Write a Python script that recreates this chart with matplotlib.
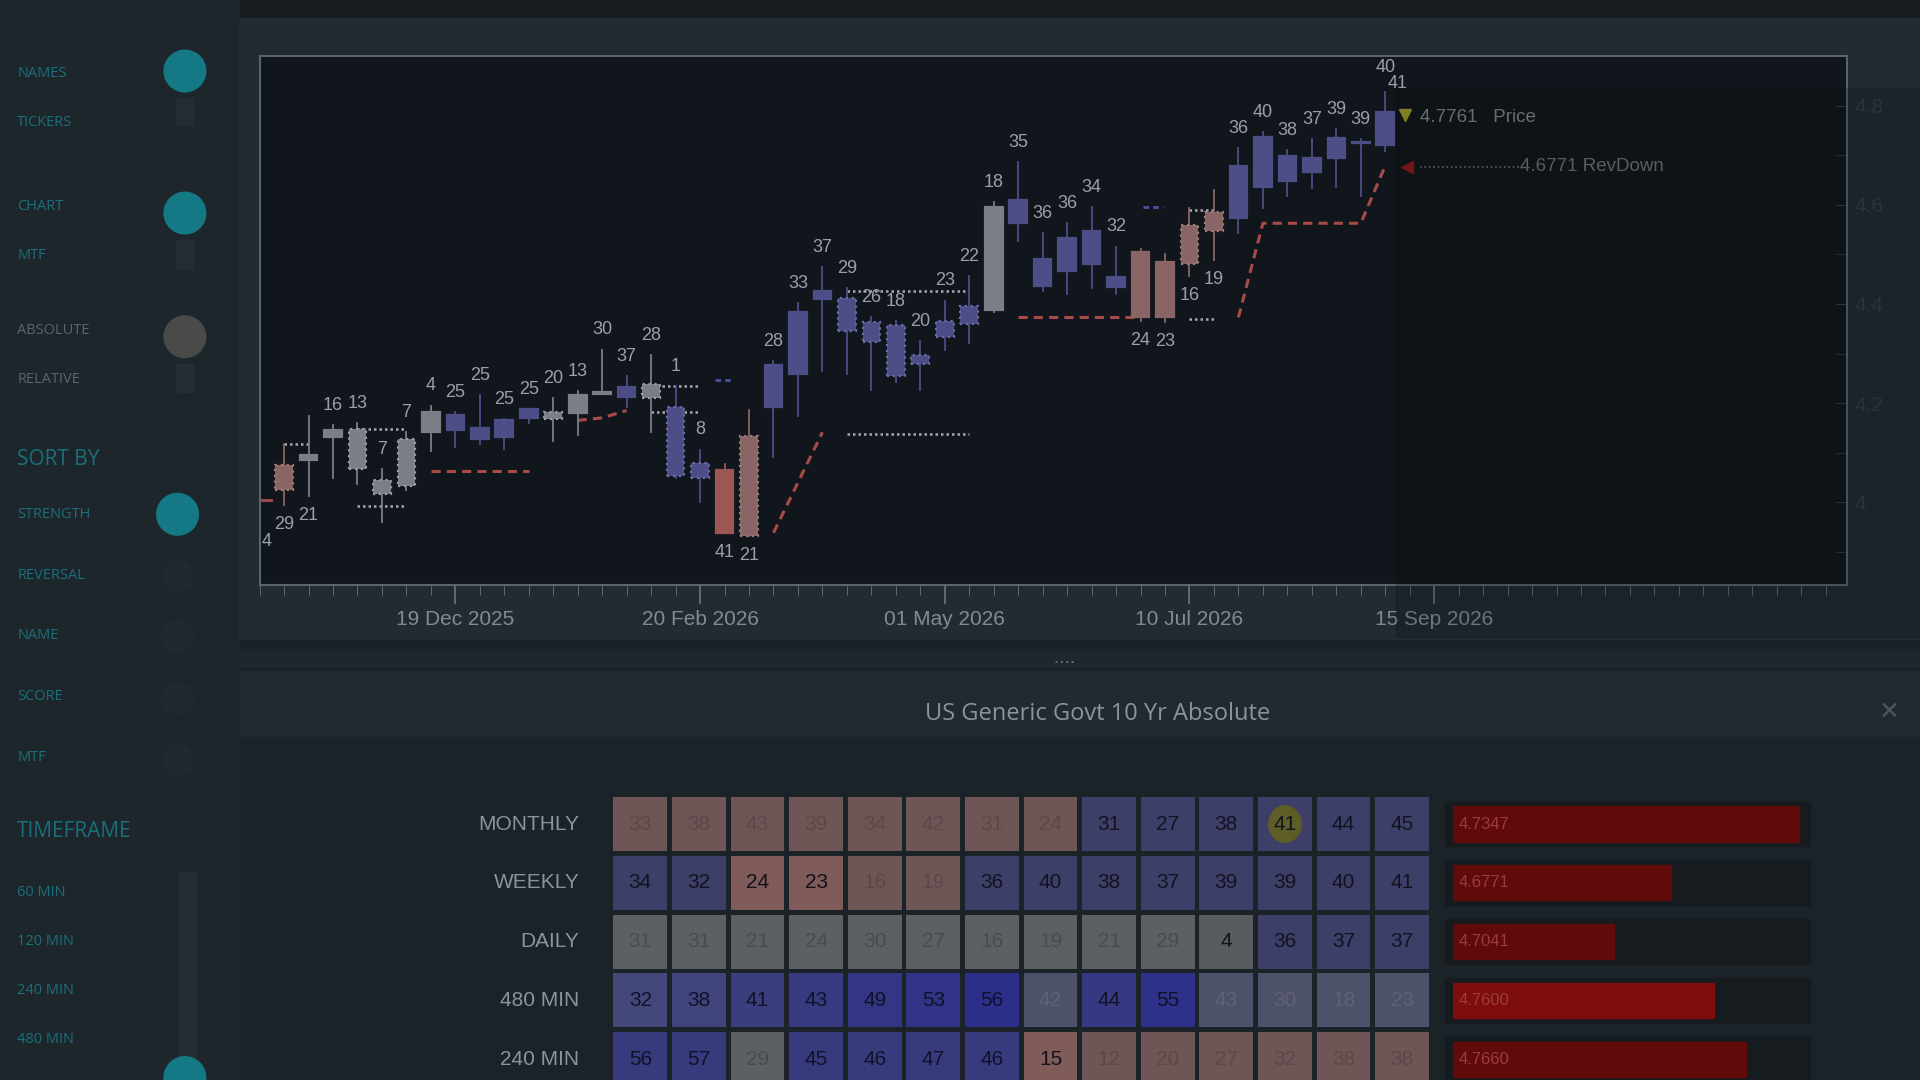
import matplotlib
matplotlib.use("Agg")
import matplotlib.pyplot as plt
from matplotlib.patches import Rectangle, Ellipse
import numpy as np

plt.rcParams['font.family'] = ['Liberation Sans Narrow', 'Liberation Sans', 'DejaVu Sans']

# ---------------- data ----------------
opens = [4.074, 4.096, 4.145, 4.148, 4.044, 4.128, 4.182, 4.175, 4.150, 4.165, 4.187, 4.182, 4.217, 4.222,
         4.232, 4.239, 4.192, 4.079, 4.064, 4.133, 4.276, 4.383, 4.427, 4.412, 4.363, 4.358, 4.296, 4.365,
         4.395, 4.595, 4.610, 4.491, 4.533, 4.548, 4.454, 4.504, 4.484, 4.560, 4.585, 4.679, 4.738, 4.699,
         4.694, 4.736, 4.728, 4.788]
closes = [4.025, 4.086, 4.131, 4.066, 4.017, 4.032, 4.141, 4.145, 4.128, 4.131, 4.170, 4.168, 4.180, 4.218,
          4.212, 4.210, 4.052, 4.049, 3.938, 3.931, 4.192, 4.259, 4.410, 4.346, 4.323, 4.254, 4.279, 4.333,
          4.360, 4.388, 4.563, 4.437, 4.467, 4.481, 4.435, 4.373, 4.373, 4.481, 4.548, 4.573, 4.637, 4.649,
          4.667, 4.694, 4.724, 4.721]
highs = [4.118, 4.173, 4.155, 4.160, 4.066, 4.141, 4.195, 4.182, 4.217, 4.168, 4.187, 4.210, 4.224, 4.308,
         4.254, 4.296, 4.234, 4.106, 4.076, 4.185, 4.284, 4.402, 4.474, 4.432, 4.373, 4.365, 4.326, 4.407,
         4.457, 4.605, 4.686, 4.543, 4.563, 4.595, 4.516, 4.511, 4.501, 4.593, 4.630, 4.714, 4.748, 4.711,
         4.733, 4.753, 4.733, 4.827]
lows = [3.995, 4.012, 4.049, 4.037, 3.960, 4.025, 4.103, 4.111, 4.118, 4.108, 4.160, 4.123, 4.136, 4.218,
        4.192, 4.141, 4.049, 4.000, 3.938, 3.931, 4.091, 4.173, 4.264, 4.259, 4.227, 4.242, 4.227, 4.308,
        4.321, 4.383, 4.528, 4.427, 4.420, 4.432, 4.420, 4.365, 4.363, 4.457, 4.489, 4.543, 4.593, 4.617,
        4.635, 4.637, 4.617, 4.709]
candle_color = list("pgggggg" + "bbbb" + "ggg" + "bgbb" + "pp" + "bbbbbbbbb" + "gbbbbb" + "pppp" + "bbbbbbb")
candle_dotted = [1, 0, 0, 1, 1, 1, 0, 0, 0, 0, 0, 1, 0, 0, 0, 1, 1, 1, 0, 1, 0, 0, 0, 1, 1, 1, 1, 1, 1, 0,
                 0, 0, 0, 0, 0, 0, 0, 1, 1, 0, 0, 0, 0, 0, 0, 0]
candle_label = [29, 21, 16, 13, 7, 7, 4, 25, 25, 25, 25, 20, 13, 30, 37, 28, 1, 8, 41, 21, 28, 33, 37, 29, 26,
                18, 20, 23, 22, 18, 35, 36, 36, 34, 32, 24, 23, 16, 19, 36, 40, 38, 37, 39, 39, 41]
label_below = [1, 1, 0, 0, 0, 0, 0, 0, 0, 0, 0, 0, 0, 0, 0, 0, 0, 0, 1, 1, 0, 0, 0, 0, 0, 0, 0, 0, 0, 0,
               0, 0, 0, 0, 0, 1, 1, 1, 1, 0, 0, 0, 0, 0, 0, 0]

rev_segments = [([6, 10], [4.062, 4.062]), ([12, 13, 14], [4.165, 4.170, 4.185]),
                ([20, 22], [3.938, 4.141]), ([30, 35], [4.373, 4.373]),
                ([39, 40, 44, 45], [4.373, 4.563, 4.563, 4.679])]
dotted_levels = [([0, 1], 4.118), ([3, 5], 4.148), ([3, 5], 3.993), ([15, 17], 4.234), ([15, 17], 4.182),
                 ([23, 28], 4.427), ([23, 28], 4.138), ([37, 38], 4.370), ([37, 38], 4.590)]
blue_marks = [(18, 4.247), (35.5, 4.595)]
price_last = 4.7761
revdown = 4.6771

date_ticks = [7, 17, 27, 37, 47]
date_labels = ["19 Dec 2025", "20 Feb 2026", "01 May 2026", "10 Jul 2026", "15 Sep 2026"]
y_ticks = [4.0, 4.2, 4.4, 4.6, 4.8]

rows = ["MONTHLY", "WEEKLY", "DAILY", "480 MIN", "240 MIN"]
cell_values = [
    [33, 38, 43, 39, 34, 42, 31, 24, 31, 27, 38, 41, 44, 45],
    [34, 32, 24, 23, 16, 19, 36, 40, 38, 37, 39, 39, 40, 41],
    [31, 31, 21, 24, 30, 27, 16, 19, 21, 29, 4, 36, 37, 37],
    [32, 38, 41, 43, 49, 53, 56, 42, 44, 55, 43, 30, 18, 23],
    [56, 57, 29, 45, 46, 47, 46, 15, 12, 20, 27, 32, 38, 38],
]
cell_kind = ["ppppppppbbbbbb", "bbPPppbbbbbbbb", "ggggggggggGbbb", "BBBBBBBlBBllll", "BBgBBBBPpppppp"]
bar_values = ["4.7347", "4.6771", "4.7041", "4.7600", "4.7660"]
bar_fill = [0.97, 0.61, 0.45, 0.73, 0.82]

side_items = [("NAMES", 60, 'teal'), ("TICKERS", 100, 'teal'), ("CHART", 169, 'teal'), ("MTF", 209, 'teal'),
              ("ABSOLUTE", 270, 'gray'), ("RELATIVE", 310, 'gray'), ("STRENGTH", 420, 'teal'),
              ("REVERSAL", 470, 'teal'), ("NAME", 519, 'teal'), ("SCORE", 569, 'teal'), ("MTF", 619, 'teal'),
              ("60 MIN", 729, 'teal'), ("120 MIN", 769, 'teal'), ("240 MIN", 809, 'teal'), ("480 MIN", 849, 'teal')]

# ---------------- figure ----------------
W, H = 1568.0, 882.0
fig = plt.figure(figsize=(19.2, 10.8), dpi=100, facecolor='#1a2126')

def fx(x): return x / W
def fy(y): return 1 - y / H

def frect(x0, y0, x1, y1, color, alpha=1.0, z=-10):
    fig.patches.append(Rectangle((fx(x0), fy(y1)), fx(x1) - fx(x0), fy(y0) - fy(y1),
                                 transform=fig.transFigure, color=color, alpha=alpha, zorder=z))

frect(0, 0, W, 15, '#151b1f')
frect(0, 0, 195, H, '#1d262b')
frect(195, 15, W, 522, '#222b31')
frect(195, 530, W, 545, '#1f272c')
frect(195, 548, W, 602, '#222a30')
frect(195, 602, W, H, '#1c2328')

SF = ['Open Sans', 'DejaVu Sans']
for txt, y, c in side_items:
    col = '#1b6f7b' if c == 'teal' else '#5d6468'
    fig.text(fx(14), fy(y), txt, color=col, fontsize=10.5, va='center', ha='left', family=SF)
fig.text(fx(14), fy(375), "SORT BY", color='#1b6f7b', fontsize=15, va='center', family=SF)
fig.text(fx(14), fy(679), "TIMEFRAME", color='#1b6f7b', fontsize=15, va='center', family=SF)
for (cx, y0, y1) in [(151, 80, 102), (151, 196, 220), (151, 297, 320), (153, 712, 882)]:
    frect(cx - 7, y0, cx + 7, y1, '#232d33', z=-5)
for (cx, cy, col, r) in [(151, 58, '#157985', 17), (151, 174, '#157985', 17), (151, 275, '#4a4a4a', 17),
                         (145, 420, '#157985', 17), (145, 470, '#20292e', 13), (145, 520, '#20292e', 13),
                         (145, 570, '#20292e', 13), (145, 620, '#20292e', 13), (151, 880, '#157985', 17)]:
    fig.patches.append(Ellipse((fx(cx), fy(cy)), fx(2 * r), 2 * r / H, transform=fig.transFigure, color=col, zorder=-4))

# ---------------- chart ----------------
ax = fig.add_axes([fx(212), fy(478), fx(1508) - fx(212), fy(46) - fy(478)])
ax.set_facecolor('#11161c')
ax.set_xlim(-0.95, 63.85)
ax.set_ylim(3.832, 4.899)
colmap = {'p': '#8a6566', 'g': '#7b7e86', 'b': '#4d4d88'}
edgemap = {'p': '#a07a7a', 'g': '#9a9da3', 'b': '#6a6aa5'}
for i in range(len(opens)):
    c = candle_color[i]
    fc = '#9c5753' if (i == 18) else colmap[c]
    ax.plot([i, i], [lows[i], highs[i]], color=fc, lw=1.3, zorder=2)
    lo, hi = min(opens[i], closes[i]), max(opens[i], closes[i])
    h = max(hi - lo, 0.004)
    ax.add_patch(Rectangle((i - 0.36, lo), 0.72, h, facecolor=fc,
                           edgecolor=edgemap[c] if candle_dotted[i] else fc,
                           linestyle=':' if candle_dotted[i] else '-', lw=1.6, zorder=3))
    if label_below[i]:
        ax.annotate(str(candle_label[i]), (i, lows[i]), xytext=(0, -8), textcoords='offset points',
                    ha='center', va='top', color='#9aa0a6', fontsize=13)
    elif i == len(opens) - 1:
        ax.annotate(str(candle_label[i]), (i + 0.5, highs[i]), xytext=(0, 0), textcoords='offset points',
                    ha='center', va='bottom', color='#9aa0a6', fontsize=13)
    else:
        ax.annotate(str(candle_label[i]), (i, highs[i]), xytext=(0, 8), textcoords='offset points',
                    ha='center', va='bottom', color='#9aa0a6', fontsize=13)
ax.annotate("40", (45, highs[45]), xytext=(0, 12), textcoords='offset points', ha='center', va='bottom',
            color='#9aa0a6', fontsize=13, annotation_clip=False)
for xs, ys in rev_segments:
    ax.plot(xs, ys, color='#a84a48', lw=2.2, ls=(0, (3, 2)), zorder=1)
for xs, lvl in dotted_levels:
    ax.plot(xs, [lvl, lvl], color='#a6a9ad', lw=1.8, ls=(0, (1, 1.2)), zorder=1)
for x, lvl in blue_marks:
    ax.plot([x - 0.4, x + 0.4], [lvl, lvl], color='#5050a8', lw=2, ls=(0, (2, 1.5)))
ax.plot([-0.95, -0.55], [4.005, 4.005], color='#a84a48', lw=2)
ax.text(-0.9, 3.92, "4", color='#9aa0a6', fontsize=13, ha='left', va='center')
ax.plot([45.8], [price_last + 0.005], marker='v', color='#9a9a2a', ms=8)
ax.text(46.4, price_last, f"{price_last:.4f}   Price", color='#7d8388', fontsize=13.5, va='center')
ax.plot([46.4, 50.5], [revdown, revdown], color='#6a6f73', lw=1.2, ls=':')
ax.plot([45.9], [revdown], marker='<', color='#8a1818', ms=9)
ax.text(50.5, revdown, f"{revdown:.4f} RevDown", color='#6a7075', fontsize=13.5, va='center')

ax.yaxis.tick_right()
ax.set_yticks(y_ticks)
ax.set_yticklabels([f"{v:g}" for v in y_ticks])
ax.set_yticks(np.arange(3.9, 4.9, 0.1), minor=True)
ax.tick_params(axis='y', which='both', colors='#333d44', labelcolor='#333d44', labelsize=15, length=8, direction='in', pad=6)
ax.set_xticks(date_ticks)
ax.set_xticklabels(date_labels)
ax.set_xticks(np.arange(-1, 64, 1), minor=True)
ax.tick_params(axis='x', which='major', colors='#6d767c', labelcolor='#848b90', labelsize=15, length=14, width=1.2)
ax.tick_params(axis='x', which='minor', colors='#6d767c', length=7)
for s in ax.spines.values():
    s.set_color('#59636a')
    s.set_linewidth(1.5)

frect(1140, 72, W, 520, '#05080a', alpha=0.18, z=5)

fig.text(fx(869), fy(541), "• • • •", color='#6b747a', fontsize=6, ha='center', va='center')
fig.text(fx(896), fy(583), "US Generic Govt 10 Yr Absolute", color='#8c9499', fontsize=17, ha='center', va='center', family=SF)
fig.text(fx(1543), fy(581), "✕", color='#4c555b', fontsize=18, ha='center', va='center', family=['DejaVu Sans'])

# ---------------- heatmap ----------------
hm = fig.add_axes([fx(499), fy(649 + 48 * 5), fx(1169) - fx(499), 48 * 5 / H])
hm.set_xlim(0, 14)
hm.set_ylim(5, 0)
hm.axis('off')
kind_face = {'p': '#6e5657', 'P': '#7f5b59', 'b': '#3d3f68', 'B': '#383a7e', 'g': '#5c6063', 'G': '#575b5e', 'l': '#4e516a'}
kind_text = {'p': '#5c4849', 'P': '#15101a', 'b': '#111320', 'B': '#111228', 'g': '#484c50', 'G': '#121416', 'l': '#5f627a'}
strong480 = ['#44477a', '#40437c', '#3a3d7e', '#373a80', '#333684', '#303386', '#2c2f8a', '', '#363982', '#2e318a']
for r in range(len(rows)):
    for c in range(14):
        k = cell_kind[r][c]
        face = strong480[c] if (r == 3 and k == 'B') else kind_face[k]
        hm.add_patch(Rectangle((c + 0.04, r + 0.04), 0.92, 0.92, facecolor=face, edgecolor='none'))
        if r == 0 and cell_values[r][c] == 41:
            hm.add_patch(Ellipse((c + 0.5, r + 0.5), 0.55, 0.62, color='#5e5d26'))
        hm.text(c + 0.5, r + 0.5, str(cell_values[r][c]), ha='center', va='center', fontsize=15,
                color=kind_text[k])
for r, name in enumerate(rows):
    fig.text(fx(473), fy(673 + 48 * r), name, color='#8d9499', fontsize=15, ha='right', va='center')

bx = fig.add_axes([fx(1187), fy(649 + 48 * 5), fx(1478) - fx(1187), 48 * 5 / H])
bx.set_xlim(0, 1)
bx.set_ylim(5, 0)
bx.axis('off')
for r in range(len(rows)):
    bx.add_patch(Rectangle((-0.025, r + 0.12), 1.025, 0.76, color='#151b1f', clip_on=False))
    bx.add_patch(Rectangle((0, r + 0.2), bar_fill[r], 0.6, color='#7e0e0e' if r == 3 else '#600a0a'))
    bx.text(0.015, r + 0.5, bar_values[r], color='#9a3c3c', fontsize=12, va='center', ha='left')

fig.savefig("out.png", dpi=100, facecolor=fig.get_facecolor())
